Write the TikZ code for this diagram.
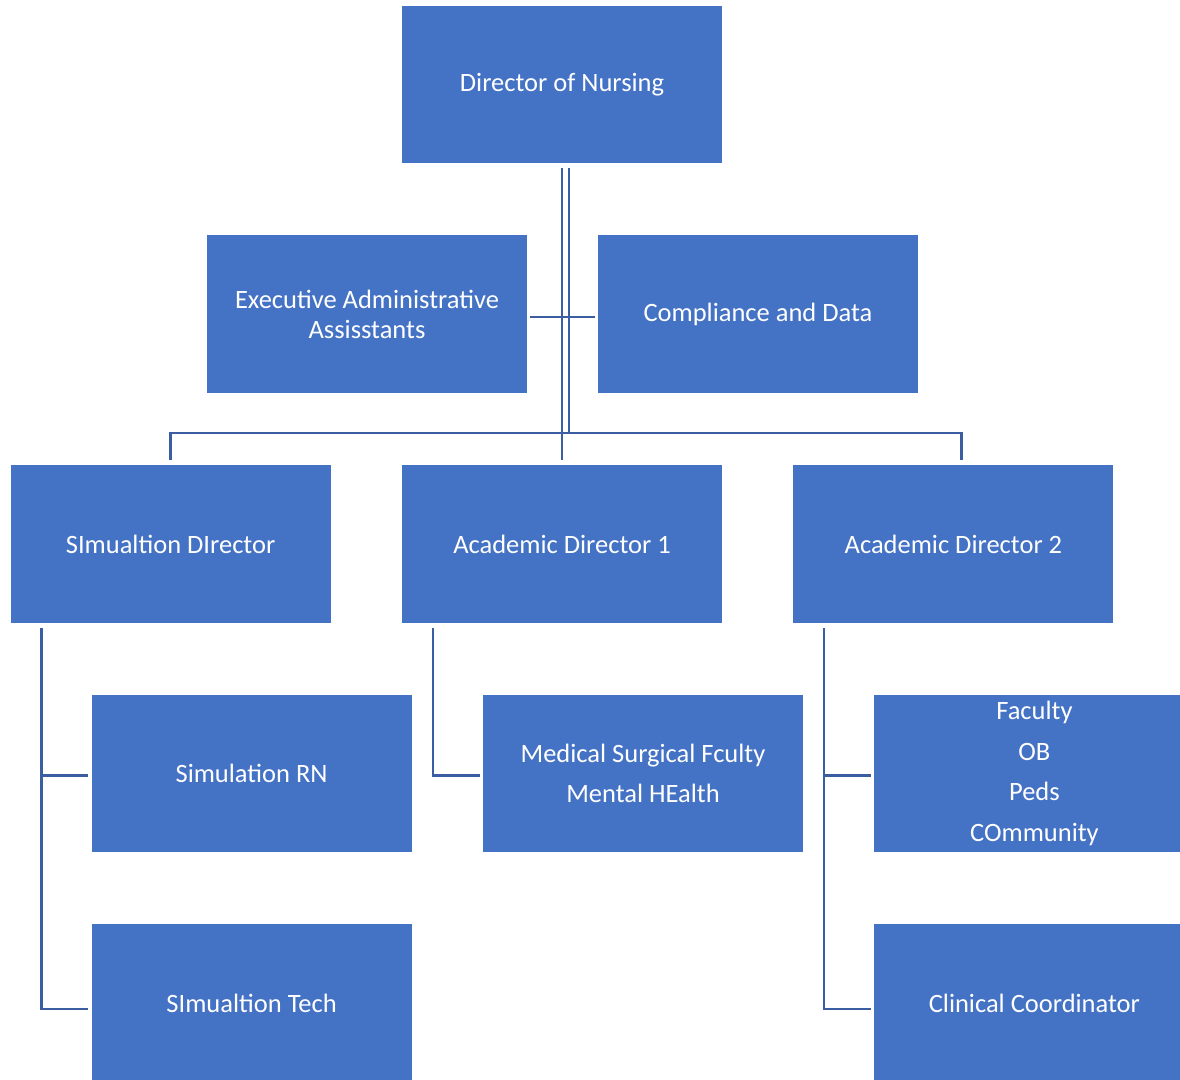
\documentclass[tikz,border=0pt]{standalone}
\usepackage{fontspec}
\setmainfont{Carlito}
\usepackage{tikz}
\usetikzlibrary{positioning}

\definecolor{boxblue}{RGB}{68,114,196}
\definecolor{lineblue}{RGB}{59,94,163}

\begin{document}
\begin{tikzpicture}[
    x=1pt, y=1pt,
    box/.style={rectangle, fill=boxblue, text=white, minimum width=320pt, minimum height=157.5pt,
        inner sep=0pt, align=center, font=\fontsize{26.5}{30}\selectfont},
    link/.style={draw=lineblue, line width=2.4pt}
]
\useasboundingbox (0,0) rectangle (1180,1079);

\node[box] (director) at (562,994.25) {Director of Nursing};
\node[box, below=71.5pt of director, xshift=-195pt] (exec) {Executive Administrative\\Assisstants};
\node[box, below=71.5pt of director, xshift=196pt] (compliance) {Compliance and Data};

\node[box, below=301.5pt of director] (acad1) {Academic Director 1};
\node[box, left=71pt of acad1] (simdir) {SImualtion DIrector};
\node[box, right=71pt of acad1] (acad2) {Academic Director 2};

\node[box, below=71.5pt of simdir, xshift=81pt] (simrn) {Simulation RN};
\node[box, below=71.5pt of simrn] (simtech) {SImualtion Tech};
\node[box, below=71.5pt of acad1, xshift=81pt] (medsurg) {Medical Surgical Fculty\\[10pt]Mental HEalth};
\node[box, below=71.5pt of acad2, xshift=81pt] (faculty) {Faculty\\[10.5pt]OB\\[10.5pt]Peds\\[10.5pt]COmmunity};
\node[box, below=71.5pt of faculty] (clinical) {Clinical Coordinator};

% top of the tree
\coordinate (bar) at ([yshift=32pt]acad1.north);
\draw[link] ([yshift=-4pt]director.south) -- ([yshift=5pt]acad1.north);
\draw[link] ([xshift=7pt,yshift=-4pt]director.south) |- (bar);
\draw[link] ([xshift=3pt,yshift=-3pt]exec.east) -- ([xshift=-3pt,yshift=-3pt]compliance.west);
\draw[link] ([yshift=5pt]simdir.north) |- (bar) -| ([xshift=8pt,yshift=5pt]acad2.north);

% branches
\draw[link] ([xshift=31pt,yshift=-5pt]simdir.south west) |- ([xshift=-3pt,yshift=-2pt]simrn.west);
\draw[link] ([xshift=31pt,yshift=-5pt]simdir.south west) |- ([xshift=-3pt,yshift=-6pt]simtech.west);
\draw[link] ([xshift=31pt,yshift=-5pt]acad1.south west) |- ([xshift=-3pt,yshift=-2pt]medsurg.west);
\draw[link] ([xshift=31pt,yshift=-5pt]acad2.south west) |- ([xshift=-3pt,yshift=-2pt]faculty.west);
\draw[link] ([xshift=31pt,yshift=-5pt]acad2.south west) |- ([xshift=-3pt,yshift=-6pt]clinical.west);
\end{tikzpicture}
\end{document}
